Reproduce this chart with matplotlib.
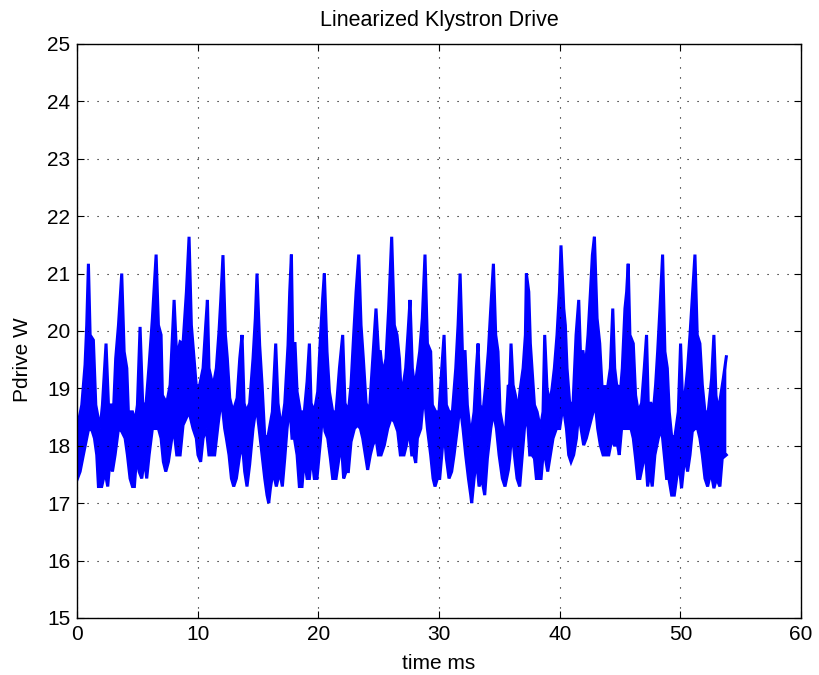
import numpy as np
import matplotlib
matplotlib.use("Agg")
import matplotlib.pyplot as plt

# upper edge of the drive trace (time ms, W)
t_hi = [0.00, 0.39, 0.66, 0.80, 0.94, 1.08, 1.35, 1.55, 1.91, 2.10, 2.40, 2.60, 2.82, 3.01, 3.20, 3.43,
        3.70, 3.90, 4.12, 4.25, 4.59, 4.81, 5.00, 5.22, 5.44, 5.72, 5.97, 6.24, 6.55, 6.74, 6.96, 7.07,
        7.43, 7.71, 8.04, 8.26, 8.54,
        8.78, 9.06, 9.28, 9.47, 9.69, 9.88, 10.16, 10.44, 10.66, 10.80, 10.93, 11.27, 11.54, 11.76, 11.90,
        12.09, 12.29, 12.45, 12.65, 12.92, 13.26, 13.48, 13.67, 13.84, 14.03, 14.30, 14.58, 14.77, 14.91,
        15.13, 15.33, 15.55, 15.82, 16.18, 16.46, 16.65, 16.93, 17.21, 17.48, 17.62, 17.76,
        17.87, 18.06, 18.23, 18.50, 18.83, 19.06, 19.25, 19.39, 19.66, 19.94, 20.16, 20.35, 20.49, 20.71,
        20.91, 21.18, 21.46, 21.74, 22.01, 22.20, 22.48, 22.70, 22.92, 23.12, 23.34, 23.53, 23.72, 23.95,
        24.22, 24.50, 24.77, 24.97, 25.13, 25.33, 25.60, 25.82, 26.07, 26.29, 26.51, 26.71,
        26.82, 27.01, 27.23, 27.43, 27.59, 27.78, 27.98, 28.20, 28.39, 28.61, 28.83, 29.03, 29.30, 29.44,
        29.72, 29.99, 30.22, 30.41, 30.60, 30.82, 31.10, 31.38, 31.57, 31.74, 31.93, 32.15, 32.34, 32.62,
        32.90, 33.09, 33.23, 33.39, 33.64, 33.86, 34.08, 34.28, 34.50, 34.69, 34.88, 35.05, 35.30, 35.52,
        35.74,
        35.77, 35.96, 36.13, 36.32, 36.51, 36.73, 36.96, 37.15, 37.23, 37.43, 37.56, 37.70, 37.90, 38.12,
        38.39, 38.61, 38.75, 38.94, 39.17, 39.36, 39.55, 39.77, 39.97, 40.10, 40.33, 40.46, 40.60, 40.82,
        41.10, 41.35, 41.57, 41.71, 41.93, 42.12, 42.34, 42.54, 42.70, 42.87, 43.09, 43.31, 43.50, 43.72,
        43.97, 44.19, 44.39, 44.55,
        44.71, 44.85, 44.98, 45.18, 45.40, 45.54, 45.67, 45.81, 46.09, 46.28, 46.50, 46.78, 47.00, 47.19,
        47.33, 47.55, 47.75, 47.94, 48.11, 48.30, 48.52, 48.71, 48.91, 49.07, 49.27, 49.54, 49.82, 50.01,
        50.18, 50.37, 50.59, 50.79, 51.01, 51.20, 51.39, 51.61, 51.81, 52.03, 52.30, 52.58, 52.77, 52.94,
        53.13, 53.55, 53.80]
p_hi = [18.30, 18.71, 19.41, 20.10, 21.17, 19.93, 19.84, 18.71, 18.30, 18.71, 19.78, 18.71, 18.71, 18.57, 19.52, 20.10,
        21.00, 19.64, 19.35, 18.59, 18.59, 18.42, 18.71, 20.07, 18.71, 18.74, 19.41, 20.22, 21.33, 20.10, 19.93, 18.88,
        18.74, 19.06, 20.54, 19.52, 19.81,
        19.78, 20.68, 21.64, 20.10, 19.52, 19.03, 19.06, 19.35, 20.10, 20.54, 19.35, 19.03, 19.35, 19.99, 20.51,
        21.32, 19.93, 19.52, 18.83, 18.59, 18.83, 19.52, 19.93, 18.74, 18.59, 18.74, 19.52, 20.22, 21.00,
        19.75, 19.06, 18.16, 18.16, 18.59, 19.78, 18.74, 18.30, 18.74, 19.75, 20.68, 21.33,
        19.78, 19.78, 18.94, 18.59, 18.59, 19.12, 19.78, 18.74, 18.59, 18.94, 19.87, 20.57, 21.00, 19.64,
        18.94, 18.59, 18.59, 19.35, 19.93, 18.74, 18.59, 19.06, 19.93, 20.68, 21.33, 20.10, 19.52, 18.74,
        18.59, 19.52, 20.39, 19.64, 19.64, 19.23, 19.52, 20.39, 21.64, 20.10, 19.93, 19.52,
        19.06, 19.03, 19.35, 19.99, 20.54, 19.35, 19.00, 19.35, 19.64, 20.22, 21.33, 19.78, 19.64, 18.71,
        18.59, 18.59, 19.35, 19.93, 18.71, 18.59, 18.59, 19.35, 20.10, 21.00, 19.64, 19.64, 18.71, 18.16,
        18.59, 19.35, 19.78, 18.71, 18.59, 19.06, 19.64, 20.39, 21.17, 19.93, 19.64, 18.59, 18.30, 18.30,
        19.06,
        18.59, 19.78, 19.06, 18.88, 18.59, 19.00, 19.35, 19.93, 21.00, 20.68, 19.78, 19.35, 18.71, 18.59,
        18.30, 18.59, 19.93, 19.00, 18.74, 19.00, 19.35, 19.93, 20.68, 21.49, 20.39, 20.10, 19.35, 18.74,
        18.74, 19.93, 20.54, 19.64, 19.64, 19.35, 19.93, 20.68, 21.32, 21.64, 20.22, 19.78, 19.03, 19.03,
        19.03, 19.35, 20.39, 19.35,
        19.06, 19.03, 18.83, 19.35, 20.39, 20.68, 21.17, 19.93, 19.78, 18.88, 18.59, 18.74, 19.35, 19.93,
        18.74, 18.74, 18.59, 19.06, 19.64, 20.39, 21.33, 19.64, 19.35, 18.59, 18.16, 18.16, 18.59, 19.78,
        18.74, 18.88, 19.35, 19.93, 20.68, 21.33, 19.93, 19.78, 19.06, 18.59, 18.59, 19.17, 19.93, 18.88,
        18.59, 19.17, 19.55]

# lower edge of the drive trace (time ms, W)
t_lo = [0.00, 0.25, 0.52, 0.94, 1.22, 1.44, 1.63, 1.77, 2.04, 2.32, 2.54, 2.74, 2.93, 3.15, 3.43, 3.70,
        3.98, 4.17, 4.39, 4.59, 4.75, 4.94, 5.14, 5.36, 5.58, 5.77, 5.97, 6.24, 6.55, 6.74, 6.96, 7.15,
        7.35, 7.57, 7.85, 8.04, 8.26, 8.54,
        8.78, 9.28, 9.61, 9.88, 10.02, 10.24, 10.44, 10.71, 10.93, 11.21, 11.40, 11.68, 11.96, 12.23, 12.37,
        12.59, 12.79, 12.98, 13.20, 13.48, 13.70, 13.89, 14.08, 14.30, 14.58, 14.86, 15.08, 15.35, 15.55,
        15.74, 15.88, 16.02, 16.24, 16.51, 16.79, 17.01, 17.21, 17.40, 17.62, 17.81,
        18.01, 18.23, 18.42, 18.64, 18.83, 19.06, 19.25, 19.44, 19.66, 19.88, 20.16, 20.35, 20.55, 20.77,
        20.99, 21.18, 21.46, 21.74, 21.87, 22.09, 22.29, 22.48, 22.70, 22.98, 23.25, 23.48, 23.67, 23.89,
        24.08, 24.30, 24.50, 24.77, 24.97, 25.19, 25.46, 25.74, 26.02, 26.29, 26.57, 26.79,
        26.90, 27.09, 27.29, 27.51, 27.73, 27.92, 28.06, 28.20, 28.48, 28.75, 29.03, 29.30, 29.50, 29.66,
        29.86, 30.05, 30.22, 30.41, 30.60, 30.82, 31.04, 31.24, 31.51, 31.74, 31.98, 32.20, 32.43, 32.62,
        32.70, 32.90, 33.09, 33.31, 33.53, 33.78, 34.00, 34.28, 34.50, 34.75, 34.97, 35.24, 35.46, 35.74,
        35.85, 36.04, 36.24, 36.46, 36.68, 36.87, 37.07, 37.29, 37.51, 37.70, 37.90, 38.06, 38.25, 38.45,
        38.61, 38.81, 39.00, 39.22, 39.44, 39.72, 39.99, 40.27, 40.55, 40.74, 40.93, 41.15, 41.38, 41.57,
        41.76, 41.98, 42.20, 42.48, 42.76, 42.95, 43.14, 43.36, 43.59, 43.81, 44.06, 44.33, 44.52,
        44.79, 44.93, 45.12, 45.40, 45.67, 45.90, 46.09, 46.28, 46.45, 46.64, 46.92, 47.11, 47.28, 47.47,
        47.66, 47.88, 48.16, 48.44, 48.66, 48.85, 49.04, 49.27, 49.49, 49.68, 49.87, 50.09, 50.37, 50.59,
        50.79, 50.98, 51.20, 51.42, 51.61, 51.81, 52.03, 52.25, 52.53, 52.77, 52.99, 53.27, 53.46, 53.80]
p_lo = [17.41, 17.55, 17.84, 18.28, 18.28, 18.13, 17.84, 17.29, 17.29, 17.55, 17.29, 17.78, 17.55, 17.84, 18.30, 18.25,
        18.13, 17.84, 17.43, 17.29, 17.29, 17.84, 17.55, 17.43, 17.78, 17.43, 17.84, 18.30, 18.30, 18.30, 18.13, 17.72,
        17.55, 17.72, 18.13, 18.25, 17.84, 17.84,
        18.36, 18.59, 18.30, 18.13, 17.84, 17.72, 18.13, 18.30, 17.84, 17.84, 17.84, 18.36, 18.83, 18.30, 18.13,
        17.84, 17.43, 17.29, 17.43, 17.84, 18.01, 17.55, 17.29, 17.67, 18.30, 18.71, 18.30, 17.78, 17.43,
        17.14, 17.00, 17.26, 17.55, 17.29, 17.55, 17.29, 17.78, 18.30, 18.71, 18.13,
        18.13, 17.84, 17.29, 17.29, 17.78, 17.43, 17.43, 17.84, 17.43, 17.43, 18.07, 18.59, 18.25, 18.13,
        17.78, 17.43, 17.43, 17.84, 18.13, 17.43, 17.55, 17.55, 18.07, 18.30, 18.36, 18.30, 18.13, 17.84,
        17.58, 17.84, 18.01, 18.13, 17.84, 17.84, 18.01, 18.30, 18.48, 18.42, 18.25, 17.84,
        17.84, 17.84, 18.01, 18.30, 17.84, 17.84, 17.70, 18.13, 18.30, 18.94, 18.30, 17.84, 17.43, 17.29,
        17.43, 17.43, 17.84, 18.30, 17.78, 17.43, 17.55, 17.84, 18.30, 18.71, 18.30, 17.84, 17.43, 17.14,
        17.00, 17.43, 17.78, 17.29, 17.43, 17.14, 17.78, 18.30, 18.59, 18.30, 17.84, 17.43, 17.29, 17.58,
        17.78, 18.30, 17.84, 17.43, 17.29, 17.78, 18.30, 18.59, 17.84, 17.84, 17.78, 17.43, 17.43, 17.43,
        17.84, 17.78, 17.55, 17.84, 18.13, 18.30, 18.30, 18.71, 18.30, 17.84, 17.72, 17.84, 18.13, 18.59,
        18.30, 18.01, 18.13, 18.36, 18.59, 18.71, 18.30, 18.01, 17.84, 17.84, 17.84, 18.13, 18.01,
        18.01, 17.84, 18.30, 18.30, 18.30, 18.30, 18.13, 17.78, 17.43, 17.43, 17.72, 17.84, 17.29, 17.55,
        17.29, 17.84, 18.13, 18.30, 17.84, 17.43, 17.43, 17.14, 17.14, 17.43, 17.72, 17.26, 17.84, 17.55,
        17.84, 18.25, 18.30, 18.30, 18.13, 17.84, 17.43, 17.29, 17.55, 17.26, 17.43, 17.29, 17.78, 17.84]

plt.rcParams['font.family'] = ['Liberation Sans', 'DejaVu Sans']

fig = plt.figure(figsize=(8.2, 6.75), dpi=100)
ax = fig.add_axes([0.094, 0.0845, 0.883, 0.8505])

blue = '#0000ff'
ax.fill(t_hi + t_lo[::-1], p_hi + p_lo[::-1], color=blue, lw=0)
ax.plot(t_hi, p_hi, color=blue, lw=2.2, solid_joinstyle='miter')
ax.plot(t_lo, p_lo, color=blue, lw=2.2, solid_joinstyle='miter')

ax.set_xlim(0, 60)
ax.set_ylim(15, 25)
ax.set_xticks(range(0, 61, 10))
ax.set_yticks(range(15, 26))
ax.grid(True, linestyle=(0, (1, 8)), color='black', lw=0.8)
ax.tick_params(direction='in', top=True, right=True, labelsize=15, length=5, width=0.8, pad=5)
for s in ax.spines.values():
    s.set_linewidth(1.0)

ax.set_title('Linearized Klystron Drive', fontsize=15.5, pad=13)
ax.set_xlabel('time ms', fontsize=15, labelpad=7)
ax.set_ylabel('Pdrive W', fontsize=15)
ax.yaxis.set_label_coords(-0.062, 0.45)

fig.savefig('out.png', dpi=100)
